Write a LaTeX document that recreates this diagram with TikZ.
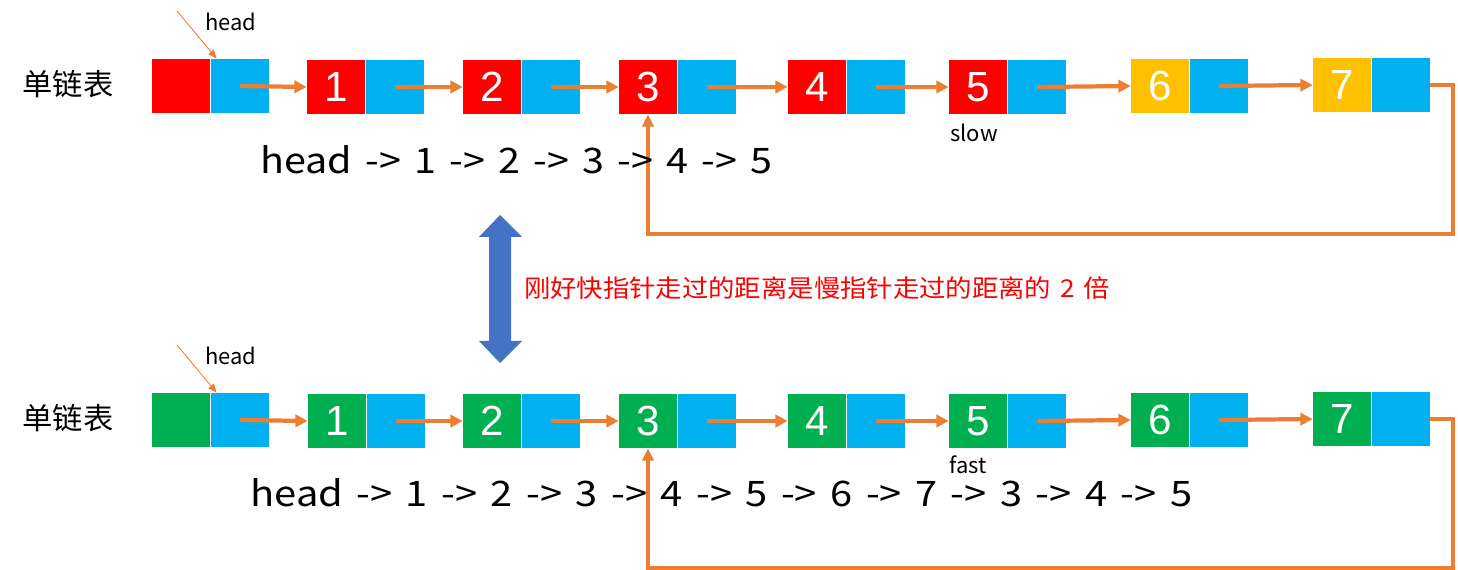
\documentclass[tikz,border=0pt]{standalone}
\usepackage{fontspec}
\usepackage{graphicx}
\setmainfont{Liberation Sans}
\newfontfamily\cjk{Noto Sans CJK SC}
\newfontfamily\cjkwide{Noto Sans CJK SC}[WordSpace=1.5]
\usetikzlibrary{arrows.meta,calc}
\definecolor{cred}{HTML}{FF0000}
\definecolor{cblue}{HTML}{00B0F0}
\definecolor{cyellow}{HTML}{FFC000}
\definecolor{cgreen}{HTML}{00B050}
\definecolor{corange}{HTML}{ED7D31}
\definecolor{cdarrow}{HTML}{4472C4}
\begin{document}
\begin{tikzpicture}[x=0.02cm,y=-0.02cm,
  cell/.style={rectangle,minimum width=1.16cm,minimum height=1.08cm,inner sep=0pt,draw=none},
  val/.style={cell,text=white,font=\fontsize{24}{24}\selectfont},
  ptr/.style={cell,fill=cblue},
  link/.style={draw=corange,line width=2.4pt,-{Triangle[length=7pt,width=7pt]}},
  back/.style={draw=corange,line width=1.9pt,-{Triangle[length=7pt,width=6.5pt]}},
  hptr/.style={draw=corange,line width=0.5pt,-{Triangle[length=5pt,width=4pt]}},
  lbl/.style={inner sep=0pt,font=\cjk\fontsize{12.5}{14}\selectfont},
  seq/.style={inner sep=0pt,anchor=base west,font=\cjkwide\fontsize{20}{24}\selectfont},
  title/.style={inner sep=0pt,font=\cjk\fontsize{17}{20}\selectfont}]
\useasboundingbox (0,0) rectangle (1458,570);

% top row
\foreach \n/\x/\yy/\c/\t in {0/181/86/cred/{},1/336/87/cred/1,2/492/87/cred/2,3/648/87/cred/3,4/817/87/cred/4,5/978/87/cred/5,6/1160/86/cyellow/6,7/1342/85/cyellow/7}{
  \node[val,fill=\c] (t\n r) at (\x,\yy) {\t};
  \node[ptr] (t\n b) at (\x+59,\yy) {};
}
% bottom row
\foreach \n/\x/\yy/\t in {0/181/420/{},1/337/421/1,2/492/421/2,3/648/421/3,4/817/421/4,5/978/421/5,6/1160/420/6,7/1342/419/7}{
  \node[val,fill=cgreen] (b\n r) at (\x,\yy) {\t};
  \node[ptr] (b\n b) at (\x+59,\yy) {};
}

\foreach \a/\b in {0/1,1/2,2/3,3/4,4/5,5/6,6/7}{
  \draw[link] (t\a b.center) -- (t\b r.west);
  \draw[link] (b\a b.center) -- (b\b r.west);
}

\coordinate (tcorner) at (1453,234);
\coordinate (bcorner) at (1453,568);
\draw[back] (t7b.east) -| (tcorner) -| (t3r.south);
\draw[back] (b7b.east) -| (bcorner) -| (b3r.south);

% head pointers
\coordinate (thp) at (177,11);
\coordinate (bhp) at (177,345);
\draw[hptr] (thp) -- ($(t0b.north west)+(6,0)$);
\draw[hptr] (bhp) -- ($(b0b.north west)+(6,0)$);
\node[lbl] (thead) at (231,22) {head};
\node[lbl] (bhead) at (231,356) {head};

% titles
\node[title] (ttitle) at (68,84) {\resizebox{1.82cm}{\height}{单链表}};
\node[title] (btitle) at (68,418) {\resizebox{1.82cm}{\height}{单链表}};

% sequences
\node[seq] (tseq) at (260,174) {\resizebox{10.24cm}{\height}{head -> 1 -> 2 -> 3 -> 4 -> 5}};
\node[seq] (bseq) at (250,507) {\resizebox{18.84cm}{\height}{head -> 1 -> 2 -> 3 -> 4 -> 5 -> 6 -> 7 -> 3 -> 4 -> 5}};

\node[lbl] (slow) at (974,133) {slow};
\node[lbl] (fast) at (968,465) {fast};

% double arrow
\fill[cdarrow] (500,215) -- (522,237) -- (511,237) -- (511,341) -- (522,341) -- (500,363) -- (479,341) -- (489,341) -- (489,237) -- (479,237) -- cycle;

\node[inner sep=0pt,text=cred,font=\cjk\fontsize{14}{16}\selectfont] (note) at (817,288) {\resizebox{11.72cm}{\height}{刚好快指针走过的距离是慢指针走过的距离的 2 倍}};
\end{tikzpicture}
\end{document}
